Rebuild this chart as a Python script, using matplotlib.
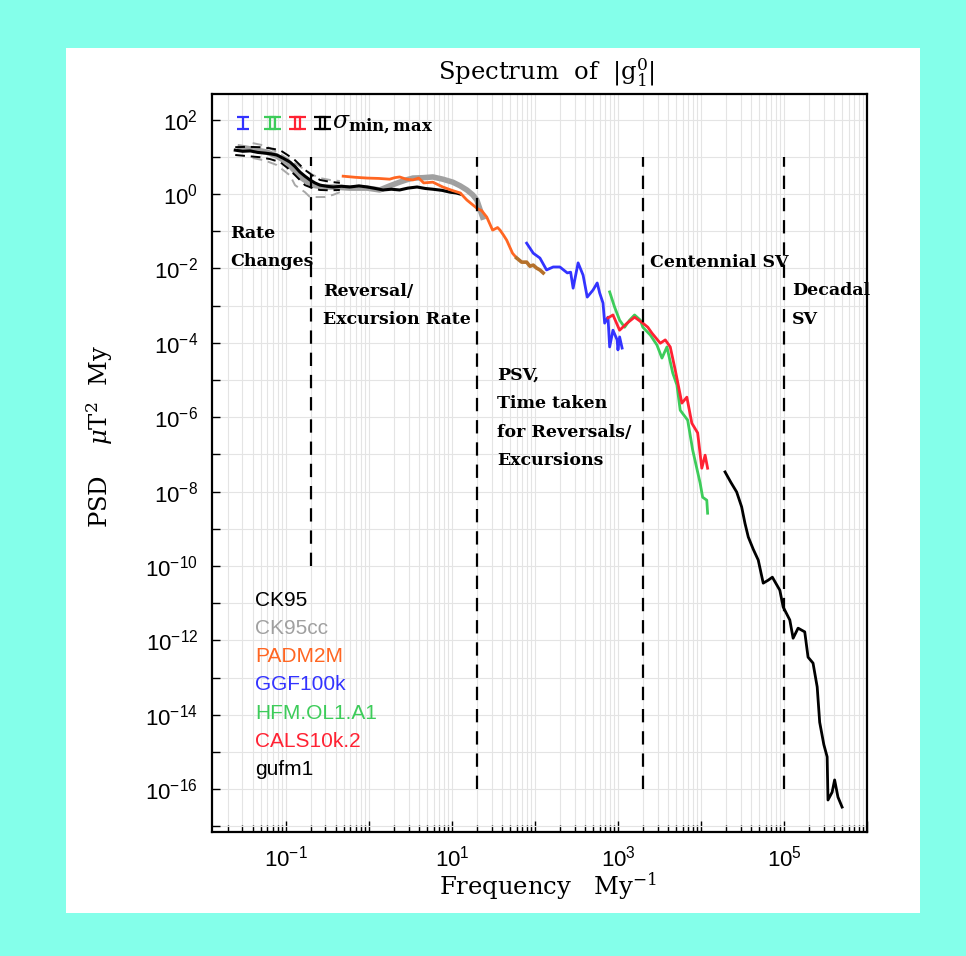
import matplotlib
matplotlib.use("Agg")
import matplotlib.pyplot as plt
import numpy as np
from matplotlib.patches import Rectangle
from matplotlib.ticker import FixedLocator, FuncFormatter, NullFormatter

plt.rcParams['font.family'] = ['Liberation Sans', 'DejaVu Sans']
plt.rcParams['mathtext.fontset'] = 'custom'
plt.rcParams['mathtext.rm'] = 'Liberation Sans'
plt.rcParams['mathtext.it'] = 'Liberation Sans:italic'
plt.rcParams['mathtext.bf'] = 'Liberation Sans:bold'

# all values are log10(frequency in 1/My) and log10(PSD in uT^2 My)
ck95_f = [-1.61, -1.52, -1.43, -1.34, -1.25, -1.18, -1.11, -1.03, -0.95, -0.89, -0.83, -0.77, -0.71, -0.65,
          -0.59, -0.51, -0.43, -0.33, -0.23, -0.12, -0.02, 0.08, 0.17, 0.27, 0.37, 0.47, 0.58, 0.68, 0.77,
          0.88, 0.98, 1.05, 1.10]
ck95_p = [1.18, 1.15, 1.16, 1.12, 1.10, 1.08, 1.05, 0.96, 0.86, 0.74, 0.59, 0.48, 0.38, 0.30,
          0.24, 0.21, 0.19, 0.21, 0.19, 0.22, 0.19, 0.15, 0.11, 0.13, 0.11, 0.16, 0.19, 0.15, 0.13,
          0.10, 0.05, 0.03, 0.00]
ck95_hi_f = [-1.61, -1.46, -1.31, -1.19, -1.07, -0.98, -0.89, -0.77, -0.68, -0.59, -0.47, -0.35]
ck95_hi_p = [1.26, 1.27, 1.26, 1.23, 1.18, 1.05, 0.91, 0.65, 0.50, 0.38, 0.33, 0.30]
ck95_lo_f = [-1.61, -1.46, -1.31, -1.19, -1.07, -0.98, -0.89, -0.77, -0.68, -0.59, -0.47, -0.35]
ck95_lo_p = [1.05, 1.02, 0.99, 0.94, 0.86, 0.70, 0.51, 0.24, 0.16, 0.11, 0.10, 0.11]

ck95cc_f = [-1.55, -1.39, -1.23, -1.11, -0.99, -0.91, -0.83, -0.68, -0.55, -0.43, -0.23, -0.02, 0.13,
            0.25, 0.37, 0.45, 0.53, 0.65, 0.77, 0.89, 1.01, 1.10, 1.18, 1.25, 1.30, 1.37]
ck95cc_p = [1.26, 1.20, 1.13, 1.02, 0.86, 0.66, 0.46, 0.24, 0.19, 0.19, 0.16, 0.16, 0.11,
            0.22, 0.32, 0.38, 0.43, 0.44, 0.46, 0.40, 0.32, 0.22, 0.11, -0.02, -0.16, -0.62]
ck95cc_hi_f = [-1.40, -1.25, -1.11, -0.95, -0.86, -0.77, -0.68, -0.59, -0.47, -0.35]
ck95cc_hi_p = [1.37, 1.30, 1.13, 0.91, 0.78, 0.65, 0.52, 0.43, 0.38, 0.35]
ck95cc_lo_f = [-1.40, -1.25, -1.11, -0.95, -0.89, -0.77, -0.71, -0.53, -0.43, -0.35]
ck95cc_lo_p = [0.97, 0.90, 0.78, 0.50, 0.24, 0.05, -0.08, -0.08, -0.02, 0.05]

padm2m_f = [-0.31, -0.16, -0.02, 0.12, 0.25, 0.31, 0.37, 0.45, 0.53, 0.60, 0.66, 0.77, 0.89, 1.00,
            1.10, 1.18, 1.30, 1.36, 1.42, 1.49, 1.55, 1.58, 1.62, 1.66, 1.73, 1.78]
padm2m_p = [0.48, 0.45, 0.43, 0.42, 0.40, 0.44, 0.46, 0.40, 0.38, 0.43, 0.30, 0.32, 0.19, 0.10,
            0.03, -0.16, -0.38, -0.45, -0.62, -0.97, -0.90, -0.97, -1.10, -1.24, -1.59, -1.72]
padm2m_hf_f = [1.78, 1.84, 1.90, 1.94, 1.98, 2.02, 2.06, 2.10]
padm2m_hf_p = [-1.72, -1.83, -1.83, -1.94, -1.91, -1.99, -2.04, -2.12]

ggf100k_f = [1.90, 1.98, 2.06, 2.14, 2.22, 2.30, 2.39, 2.43, 2.46, 2.52, 2.58, 2.63, 2.70, 2.75,
             2.78, 2.82, 2.84, 2.88, 2.90, 2.94, 2.99, 3.00, 3.02, 3.05]
ggf100k_p = [-1.32, -1.59, -1.72, -2.04, -1.96, -1.96, -2.12, -2.10, -2.53, -1.85, -2.18, -2.77, -2.58, -2.39,
             -2.66, -2.93, -3.47, -3.31, -4.11, -3.66, -3.92, -4.19, -3.84, -4.14]

hfm_f = [2.90, 2.96, 3.02, 3.08, 3.14, 3.20, 3.27, 3.30, 3.39, 3.47, 3.53, 3.59, 3.66, 3.71, 3.75,
         3.84, 3.90, 3.99, 4.02, 4.07, 4.08]
hfm_p = [-2.63, -3.04, -3.39, -3.58, -3.39, -3.25, -3.39, -3.58, -3.79, -4.06, -4.41, -4.11, -4.81, -5.13, -5.81,
         -6.08, -6.88, -7.77, -8.15, -8.23, -8.58]

cals_f = [2.88, 2.94, 3.02, 3.11, 3.20, 3.30, 3.36, 3.41, 3.51, 3.57, 3.63, 3.69, 3.77, 3.83, 3.89,
          3.96, 4.01, 4.05, 4.08]
cals_p = [-3.33, -3.25, -3.66, -3.47, -3.31, -3.47, -3.58, -3.74, -4.01, -3.92, -4.11, -4.73, -5.62, -5.46, -6.16,
          -6.42, -7.37, -7.02, -7.37]

gufm1_f = [4.29, 4.36, 4.43, 4.49, 4.53, 4.57, 4.63, 4.69, 4.75, 4.81, 4.86, 4.95, 4.99, 5.07, 5.11, 5.17,
           5.25, 5.29, 5.35, 5.40, 5.43, 5.48, 5.52, 5.53, 5.58, 5.61, 5.65, 5.70]
gufm1_p = [-7.47, -7.75, -8.01, -8.41, -8.85, -9.22, -9.55, -9.84, -10.46, -10.38, -10.30, -10.65, -11.10, -11.45,
           -11.94, -11.67, -11.77, -12.45, -12.61, -13.25, -14.20, -14.80, -15.13, -16.29, -16.08, -15.75, -16.21,
           -16.48]

# regime boundaries (frequency, lower end of dashed line)
bounds_f = [0.2, 20.0, 2000.0, 1e5]
bounds_lo = [1e-10, 1e-16, 1e-16, 1e-16]

names = ['CK95', 'CK95cc', 'PADM2M', 'GGF100k', 'HFM.OL1.A1', 'CALS10k.2', 'gufm1']
colors = ['black', '#A0A0A0', '#FF6622', '#3333FF', '#3DCC5A', '#FF2233', 'black']

W, H = 966, 956
fig = plt.figure(figsize=(W / 100, H / 100), dpi=100)
fig.patch.set_facecolor('#84FFEA')
fig.add_artist(Rectangle((66 / W, 1 - 913 / H), 854 / W, 865 / H, transform=fig.transFigure,
                         facecolor='white', edgecolor='none', zorder=-1))
ax = fig.add_axes([212 / W, 1 - 832 / H, 655 / W, 738 / H])
ax.set_xscale('log')
ax.set_yscale('log')
ax.set_xlim(10 ** -1.89, 10 ** 6.0)
ax.set_ylim(10 ** -17.15, 10 ** 2.69)

def L(a):
    return 10 ** np.array(a)

ax.plot(L(ck95cc_hi_f), L(ck95cc_hi_p), color='#A8A8A8', lw=1.4, ls=(0, (5, 3)))
ax.plot(L(ck95cc_lo_f), L(ck95cc_lo_p), color='#A8A8A8', lw=1.4, ls=(0, (5, 3)))
ax.plot(L(ck95cc_f), L(ck95cc_p), color=colors[1], lw=4)
ax.plot(L(ck95_hi_f), L(ck95_hi_p), color='black', lw=1.4, ls=(0, (5, 3)))
ax.plot(L(ck95_lo_f), L(ck95_lo_p), color='black', lw=1.4, ls=(0, (5, 3)))
ax.plot(L(ck95_f), L(ck95_p), color=colors[0], lw=2.2)
ax.plot(L(padm2m_f), L(padm2m_p), color=colors[2], lw=2)
ax.plot(L(padm2m_hf_f), L(padm2m_hf_p), color='#B5702A', lw=2.6)
ax.plot(L(ggf100k_f), L(ggf100k_p), color=colors[3], lw=2)
ax.plot(L(hfm_f), L(hfm_p), color=colors[4], lw=2)
ax.plot(L(cals_f), L(cals_p), color=colors[5], lw=2)
ax.plot(L(gufm1_f), L(gufm1_p), color=colors[6], lw=2)

ax.vlines(bounds_f, bounds_lo, 10.0, colors='black', lw=1.6, linestyles=(0, (6, 4)))

# axes, ticks, grid
dec_x = np.arange(-2, 7)
ax.xaxis.set_major_locator(FixedLocator(10.0 ** dec_x))
ax.xaxis.set_minor_locator(FixedLocator([m * 10.0 ** d for d in dec_x for m in range(2, 10)]))
ax.xaxis.set_major_formatter(FuncFormatter(lambda v, p: r'$10^{%d}$' % round(np.log10(v)) if round(np.log10(v)) % 2 else ''))
ax.xaxis.set_minor_formatter(NullFormatter())
dec_y = np.arange(-17, 3)
ax.yaxis.set_major_locator(FixedLocator(10.0 ** dec_y))
ax.yaxis.set_minor_locator(FixedLocator([]))
ax.yaxis.set_major_formatter(FuncFormatter(lambda v, p: '' if round(np.log10(v)) % 2 else r'$10^{%d}$' % round(np.log10(v))))
ax.tick_params(which='both', direction='in', top=False, right=False, labelsize=16, width=1)
ax.tick_params(axis='x', which='major', length=8, pad=10)
ax.tick_params(axis='x', which='minor', length=5)
ax.tick_params(axis='y', which='major', length=6, pad=10)
ax.grid(True, which='both', color='#E4E4E4', lw=0.8)
ax.set_axisbelow(True)
for s in ax.spines.values():
    s.set_linewidth(1.6)

serif = dict(family='DejaVu Serif', math_fontfamily='dejavuserif')
fig.text(546 / W, 1 - 72 / H, r'Spectrum  of  $|\mathrm{g}_1^0|$', ha='center', va='center', fontsize=17.5, **serif)
fig.text(548 / W, 1 - 886 / H, r'Frequency   My$^{-1}$', ha='center', va='center', fontsize=17.5, **serif)
fig.text(100 / W, 1 - 437 / H, r'PSD    $\mu$T$^2$  My', ha='center', va='center', rotation=90, fontsize=17.5, **serif)

# sigma min/max key
for xf, c, dbl in [(0.047, '#3333FF', False), (0.092, '#3DCC5A', True), (0.130, '#FF2233', True), (0.169, 'black', True)]:
    offs = [-0.004, 0.004] if dbl else [0.0]
    for o in offs:
        ax.errorbar(xf + o, 0.961, yerr=0.008, color=c, capsize=4, capthick=1.6, lw=1.6,
                    transform=ax.transAxes)
fig.text(332 / W, 1 - 128 / H, r'$\sigma_{\mathbf{min,max}}$', fontsize=17, **serif)

# regime labels
regimes = [(230, 238, ['Rate', 'Changes']),
           (323, 296, ['Reversal/', 'Excursion Rate']),
           (497, 380, ['PSV,', 'Time taken', 'for Reversals/', 'Excursions']),
           (650, 267, ['Centennial SV']),
           (792, 295, ['Decadal', 'SV'])]
for x0, y0, lines in regimes:
    for i, t in enumerate(lines):
        fig.text(x0 / W, 1 - (y0 + 28.5 * i) / H, t, fontsize=12.5, family='DejaVu Serif',
                 weight='bold', va='baseline')

# model names
for i, (n, c) in enumerate(zip(names, colors)):
    fig.text(255 / W, 1 - (600 + 28.3 * i) / H, n, color=c, fontsize=15, va='center')

fig.savefig('out.png', dpi=100, facecolor=fig.get_facecolor())
